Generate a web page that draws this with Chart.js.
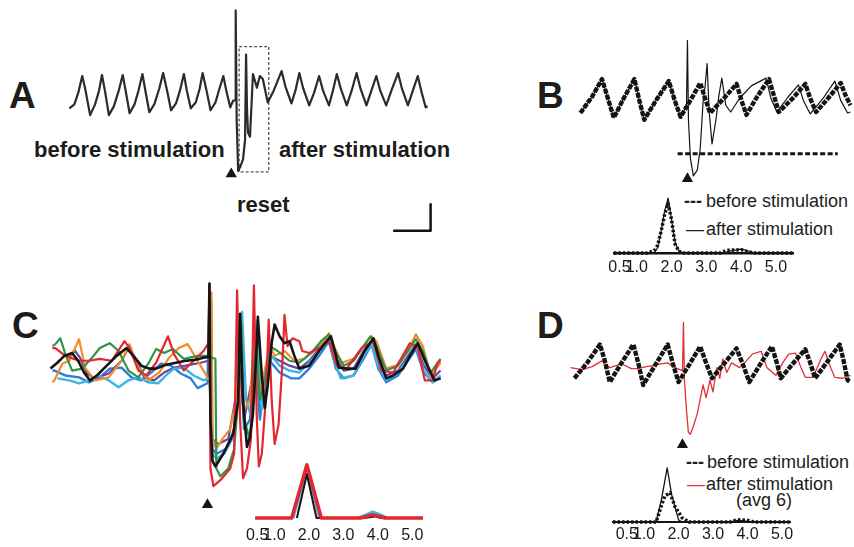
<!DOCTYPE html>
<html>
<head>
<meta charset="utf-8">
<script src="https://cdn.jsdelivr.net/npm/chart.js@4.4.1/dist/chart.umd.min.js"></script>
<style>
  html, body { margin: 0; padding: 0; background: #fff; }
  #fig { position: relative; width: 854px; height: 547px; overflow: hidden;
         font-family: "Liberation Sans", Arial, sans-serif; color: #1c1c1c; }
  #fig canvas { position: absolute; }
  .lbl { position: absolute; white-space: nowrap; line-height: 1; }
  .big { font-weight: bold; font-size: 37px; }
  .cap { font-weight: bold; font-size: 22px; }
  .leg { font-size: 18px; }
</style>
</head>
<body>
<div id="fig">
  <div class="lbl big" style="left:9px;top:77px">A</div>
  <div class="lbl big" style="left:537px;top:77px">B</div>
  <div class="lbl big" style="left:12px;top:307px">C</div>
  <div class="lbl big" style="left:537px;top:307px">D</div>

  <div class="lbl cap" style="left:34px;top:139px">before stimulation</div>
  <div class="lbl cap" style="left:279px;top:139px">after stimulation</div>
  <div class="lbl cap" style="left:237px;top:194px">reset</div>

  <div class="lbl leg" style="left:684px;top:192px;font-weight:bold">---</div>
  <div class="lbl leg" style="left:706px;top:192px">before stimulation</div>
  <div class="lbl leg" style="left:686px;top:220px">—</div>
  <div class="lbl leg" style="left:706px;top:220px">after stimulation</div>

  <div class="lbl leg" style="left:686px;top:453px;font-weight:bold">---</div>
  <div class="lbl leg" style="left:707px;top:453px">before stimulation</div>
  <div class="lbl leg" style="left:687px;top:475px;color:#e0303a">—</div>
  <div class="lbl leg" style="left:706px;top:475px">after stimulation</div>
  <div class="lbl leg" style="left:736px;top:491px">(avg 6)</div>

  <canvas id="cA"></canvas>
  <canvas id="cB"></canvas>
  <canvas id="cBh"></canvas>
  <canvas id="cC"></canvas>
  <canvas id="cCh"></canvas>
  <canvas id="cD"></canvas>
  <canvas id="cDh"></canvas>
</div>
<script>
/*
  Traces: [time (ms), potential (uV)] ; histograms: [period (s), fraction]
*/
// --- A: single sweep, stimulus near 168 ms
var traceA = [[0,2],[5,6],[9,18],[13,35],[16,22],[21,-5],[26,6],[30,20],[33,36],[36,20],[40,-5],[45,4],[50,20],[54,36],[57,20],[61,-3],[66,6],[70,20],[74,37],[77,20],[81,-2],[86,6],[91,22],[95,38],[99,20],[103,0],[108,7],[112,20],[116,37],[119,20],[123,2],[128,8],[132,22],[135,38],[139,20],[143,0],[148,8],[152,22],[156,35],[159,20],[163,3],[166,10],[168,10],[168.5,102],[169.5,-10],[171,-62],[173,-58],[176,-50],[178,-30],[179,57],[180,0],[181,-23],[183,-27],[186,37],[190,23],[193,35],[196,32],[201,8],[207,20],[211,30],[215,40],[219,24],[225,7],[229,20],[233,38],[237,22],[243,5],[248,18],[253,35],[257,20],[263,5],[267,20],[271,37],[275,22],[281,5],[286,20],[291,38],[295,22],[301,5],[306,20],[311,35],[315,20],[321,5],[327,22],[333,38],[337,22],[343,5],[348,20],[353,35],[357,18],[361,3],[363,4]];
var resetBoxA = [[172,65],[202,65],[202,-63],[172,-63],[172,65]];
var scaleBarA = [[328,-123],[366,-123],[366,-95]];
var stimA = [[164,-65]];

// --- B: before vs after stimulation
var beforeB = [[0,5],[12,22],[22,40],[28,20],[34,0],[44,20],[55,40],[60,18],[65,-2],[77,18],[90,38],[96,18],[102,1],[112,18],[122,36],[127,20],[132,5],[146,20],[159,35],[164,18],[169,3],[180,22],[192,40],[197,23],[202,6],[216,20],[229,35],[234,20],[240,6],[252,20],[265,36],[270,23],[275,13]];
var afterB = [[0,5],[12,22],[22,40],[28,20],[34,0],[44,20],[55,40],[60,18],[65,-2],[77,18],[90,38],[96,18],[102,1],[108,12],[109,80],[110,-2],[112,-42],[115,-60],[119,-54],[122,-32],[125,18],[127,33],[129,56],[131,8],[134,-27],[138,-2],[141,23],[144,41],[148,13],[153,6],[162,20],[174,33],[189,41],[194,20],[200,6],[211,21],[222,34],[227,18],[234,4],[247,20],[259,38],[265,18],[272,5],[275,6]];
var thresholdB = [[99,-37],[262,-37]];
var stimB = [[109,-63]];
var histBeforeB = [[0.34,0],[1.3,0],[1.5,0.02],[1.6,0.07],[1.7,0.2],[1.8,0.35],[1.9,0.45],[2.0,0.3],[2.1,0.08],[2.2,0.02],[2.3,0],[3.4,0],[3.6,0.025],[4.0,0.03],[4.2,0.01],[4.4,0],[5.49,0]];
var histAfterB = [[0.34,0],[1.5,0],[1.6,0.05],[1.7,0.2],[1.8,0.38],[1.9,0.5],[2.0,0.3],[2.1,0.1],[2.2,0.02],[2.3,0],[3.5,0],[3.7,0.02],[4.0,0.035],[4.2,0.02],[4.4,0],[5.49,0]];

// --- C: six sweeps plus their average
var blackC = [[8,32],[15,38],[22,45],[30,48],[36,40],[42,28],[48,20],[55,25],[65,35],[75,45],[85,53],[92,45],[100,35],[108,32],[115,32],[125,36],[135,38],[145,40],[155,41],[163,43],[168,44],[169,119],[170,-20],[172,-62],[175,-68],[183,-55],[193,-35],[198,-2],[200,88],[203,-2],[207,-48],[210,-38],[213,-15],[217,58],[218,85],[222,25],[225,-8],[228,15],[232,58],[235,77],[240,65],[245,58],[250,60],[255,45],[260,32],[270,35],[280,50],[286,58],[292,65],[296,50],[300,33],[308,32],[317,32],[326,50],[335,63],[340,45],[348,22],[355,25],[365,32],[372,45],[380,58],[388,38],[397,20],[403,22]];
var redC = [[10,53],[13,53],[23,45],[37,40],[47,40],[58,42],[70,40],[83,60],[88,53],[97,30],[105,25],[115,38],[127,65],[133,47],[143,30],[153,40],[163,50],[168,58],[169,118],[170,-70],[173,-88],[180,-82],[190,-70],[194,-55],[197,112],[200,-20],[203,-80],[207,-70],[211,-40],[214,117],[217,-20],[219,-68],[222,-55],[226,0],[229,82],[232,0],[235,-45],[239,-25],[243,40],[245,87],[248,55],[253,63],[260,60],[263,50],[270,48],[280,53],[290,60],[298,35],[308,32],[323,53],[335,60],[343,30],[355,28],[372,58],[380,53],[387,20],[395,20],[400,38],[403,40]];
var orangeC = [[10,18],[12,20],[20,37],[27,40],[37,62],[43,33],[53,20],[67,23],[80,40],[88,57],[97,33],[107,20],[118,28],[128,43],[138,53],[147,57],[157,40],[167,23],[170,20],[171,110],[172,-40],[176,-50],[182,-40],[190,-30],[196,0],[200,70],[204,-10],[210,0],[215,70],[220,10],[225,30],[230,55],[235,45],[245,50],[255,40],[265,42],[275,50],[285,60],[290,68],[295,55],[303,38],[315,42],[325,55],[333,65],[338,60],[348,32],[358,35],[370,50],[378,67],[385,55],[393,25],[403,38]];
var greenC = [[10,55],[13,57],[18,63],[23,47],[30,30],[40,32],[50,43],[58,53],[68,58],[77,50],[87,30],[97,23],[107,37],[115,52],[123,48],[132,52],[143,42],[157,45],[168,45],[172,43],[175,42],[176,-70],[180,-78],[188,-70],[194,-50],[198,0],[201,80],[204,-20],[210,-40],[216,65],[220,0],[225,20],[230,55],[238,50],[250,40],[260,38],[272,48],[282,60],[290,67],[296,50],[305,35],[315,40],[325,55],[332,65],[338,55],[348,30],[360,35],[370,50],[378,62],[385,50],[393,28],[403,42]];
var cyanC = [[15,22],[27,20],[37,17],[47,20],[57,25],[67,20],[77,13],[87,20],[97,23],[107,18],[117,17],[127,27],[133,32],[143,33],[153,25],[163,20],[170,23],[171,100],[172,-55],[176,-60],[184,-55],[192,-40],[196,-20],[202,90],[206,0],[212,-20],[217,80],[222,-10],[227,30],[232,45],[240,35],[250,30],[260,28],[270,38],[280,50],[290,62],[296,38],[302,22],[315,25],[325,45],[333,58],[340,35],[348,20],[360,28],[370,42],[378,55],[386,30],[395,18],[403,25]];
var blueC = [[10,30],[12,30],[23,25],[37,23],[47,18],[58,23],[68,32],[80,33],[90,23],[100,20],[110,28],[120,37],[130,35],[140,27],[150,22],[157,12],[167,17],[169,100],[172,-50],[176,-55],[186,-50],[194,-30],[199,70],[204,-30],[210,-20],[215,60],[220,-20],[225,20],[230,40],[240,28],[252,22],[260,22],[270,32],[280,45],[290,60],[297,32],[305,22],[315,25],[325,42],[333,57],[340,32],[348,18],[360,25],[370,40],[378,52],[386,28],[395,18],[403,23]];
var purpleC = [[27,45],[33,50],[38,43],[45,27],[53,22],[67,27],[80,40],[87,53],[95,40],[103,23],[113,20],[123,28],[133,33],[145,35],[160,38],[168,40],[172,-40],[178,-45],[188,-40],[196,5],[199,50],[204,-20],[212,20],[218,50],[224,10],[230,45],[240,40],[250,35],[260,32],[270,40],[280,52],[290,63],[296,45],[305,30],[315,32],[325,50],[333,60],[340,40],[348,25],[360,30],[370,45],[378,57],[386,35],[395,22],[403,30]];
var stimC = [[167,-107]];
var histRedC = [[0.44,0],[1.5,0],[1.94,0.5],[2.36,0],[3.5,0],[3.85,0.03],[4.2,0],[5.31,0]];
var histBlackC = [[1.65,0],[1.94,0.41],[2.22,0],[3.6,0],[3.9,0.015],[4.1,0]];
var histCyanC = [[0.44,0],[1.55,0],[1.94,0.45],[2.3,0],[3.4,0],[3.7,0.04],[3.85,0.06],[4.1,0.03],[4.3,0],[5.31,0]];

// --- D: before vs average of 6 after
var beforeD = [[12,22],[25,38],[38,57],[43,40],[48,18],[60,38],[72,57],[77,38],[82,15],[95,37],[107,57],[112,38],[118,18],[130,38],[140,55],[146,38],[152,22],[165,38],[177,53],[184,35],[190,18],[202,38],[213,55],[218,38],[222,22],[235,38],[247,52],[252,38],[257,22],[270,40],[282,57],[286,40],[290,20],[293,18]];
var afterD = [[8,33],[20,31],[30,34],[40,40],[48,33],[60,37],[70,32],[77,32],[85,34],[93,35],[100,37],[107,38],[112,34],[117,32],[122,30],[123,80],[124,20],[126,-10],[128,-34],[130,-36],[133,-28],[137,-15],[140,0],[143,15],[146,2],[150,20],[153,8],[157,33],[160,22],[163,42],[167,28],[172,38],[180,33],[187,40],[193,47],[202,50],[208,33],[217,25],[224,38],[230,47],[237,48],[243,32],[247,23],[255,23],[262,40],[267,50],[272,35],[277,23],[285,22],[293,25]];
var stimD = [[122,-47]];
var histBeforeD = [[0.1,0],[1.35,0],[1.5,0.15],[1.6,0.24],[1.75,0.27],[1.9,0.14],[2.1,0.04],[2.3,0],[3.5,0],[3.7,0.02],[4.0,0.015],[4.2,0],[5.23,0]];
var histAfterD = [[0.1,0],[1.35,0],[1.5,0.2],[1.67,0.5],[1.8,0.25],[2.0,0.02],[2.1,0],[3.5,0],[3.7,0.015],[3.9,0.01],[4.1,0],[5.23,0]];

var periodTicks = [0.5, 1, 2, 3, 4, 5];

var ink = '#141414';
var red = '#e0303a';
var tickFont = { family: '"Liberation Sans Narrow", "Liberation Sans", Arial', size: 16 };

// canvas sized so that the plot area lands on [left, top, width, height]
var place = (id, area, pad, axisH) => {
  var c = document.getElementById(id);
  c.width = area[2] + 2 * pad;
  c.height = area[3] + 2 * pad + axisH;
  c.style.left = (area[0] - pad) + 'px';
  c.style.top = (area[1] - pad) + 'px';
  return c;
};

var line = (pts, color, width, dash) => ({
  data: pts.map(p => ({ x: p[0], y: p[1] })),
  showLine: true,
  borderColor: color,
  borderWidth: width,
  borderDash: dash || [],
  borderJoinStyle: 'round',
  pointRadius: 0,
  tension: 0,
  clip: false
});

var marker = pts => ({
  data: pts.map(p => ({ x: p[0], y: p[1] })),
  showLine: false,
  pointStyle: 'triangle',
  pointRadius: 6.5,
  backgroundColor: ink,
  borderColor: ink,
  borderWidth: 0,
  clip: false
});

var baseOptions = (xr, yr) => ({
  responsive: false,
  animation: false,
  devicePixelRatio: 1,
  events: [],
  plugins: { legend: { display: false }, tooltip: { enabled: false } },
  scales: {
    x: { type: 'linear', min: xr[0], max: xr[1], display: false },
    y: { type: 'linear', min: yr[0], max: yr[1], display: false }
  }
});

var trace = (id, area, xr, yr, datasets) => {
  var opts = baseOptions(xr, yr);
  opts.layout = { padding: 4 };
  return new Chart(place(id, area, 4, 0), { type: 'scatter', data: { datasets: datasets }, options: opts });
};

var histogram = (id, area, xr, labelPad, border, datasets) => {
  var axisH = 30;
  var opts = baseOptions(xr, [0, 0.6]);
  opts.layout = { padding: { left: 10, right: 10, top: 4, bottom: 0 } };
  opts.scales.x = {
    type: 'linear', min: xr[0], max: xr[1], display: true,
    grid: { display: false, drawTicks: false },
    border: border,
    ticks: { padding: labelPad, font: tickFont, color: '#1a1a1a', autoSkip: false, maxRotation: 0,
             callback: v => Number(v).toFixed(1) },
    afterBuildTicks: s => { s.ticks = periodTicks.map(v => ({ value: v })); },
    afterFit: s => { s.height = axisH; }
  };
  var c = document.getElementById(id);
  c.width = area[2] + 20;
  c.height = area[3] + 4 + axisH;
  c.style.left = (area[0] - 10) + 'px';
  c.style.top = (area[1] - 4) + 'px';
  return new Chart(c, { type: 'scatter', data: { datasets: datasets }, options: opts });
};

var heavyDash = [5, 1.3];

trace('cA', [60, 5, 380, 235], [-7, 373], [-130, 105], [
  line(traceA, '#2b2b2b', 2.2),
  line(resetBoxA, '#555', 1.3, [3, 2]),
  line(scaleBarA, ink, 2.5),
  marker(stimA)
]);

trace('cB', [572, 35, 282, 155], [-6, 276], [-72, 83], [
  line(afterB, ink, 1.2),
  line(beforeB, ink, 4.4, heavyDash),
  line(thresholdB, ink, 3, [5, 2.5]),
  marker(stimB)
]);

histogram('cBh', [613, 187, 180, 66], [0.34, 5.49], 5, { display: true, color: ink, width: 2.5 }, [
  line(histAfterB, ink, 1.2),
  line(histBeforeB, ink, 3.5, [2.5, 2])
]);

trace('cC', [44, 278, 404, 237], [4, 408], [-115, 122], [
  line(blackC, ink, 2.6),
  line(redC, '#e3262f', 2.2),
  line(greenC, '#2f9447', 2.2),
  line(orangeC, '#f28c28', 2.2),
  line(cyanC, '#3cb4e6', 2.4),
  line(purpleC, '#6a45a0', 2.2),
  line(blueC, '#2f7ed8', 2.4),
  marker(stimC)
]);

histogram('cCh', [248, 454, 175, 64], [0.44, 5.31], 8, { display: false }, [
  line(histRedC, '#e3262f', 3.5),
  line(histBlackC, ink, 2),
  line(histCyanC, '#3cb4e6', 2.2)
]);

trace('cD', [565, 315, 289, 140], [5, 294], [-55, 85], [
  line(beforeD, ink, 4.4, heavyDash),
  line(afterD, red, 1.3),
  marker(stimD)
]);

histogram('cDh', [613, 457, 177, 65], [0.1, 5.23], 3, { display: true, color: ink, width: 2 }, [
  line(histAfterD, ink, 1.3),
  line(histBeforeD, ink, 3.5, [2.5, 2])
]);
</script>
</body>
</html>
